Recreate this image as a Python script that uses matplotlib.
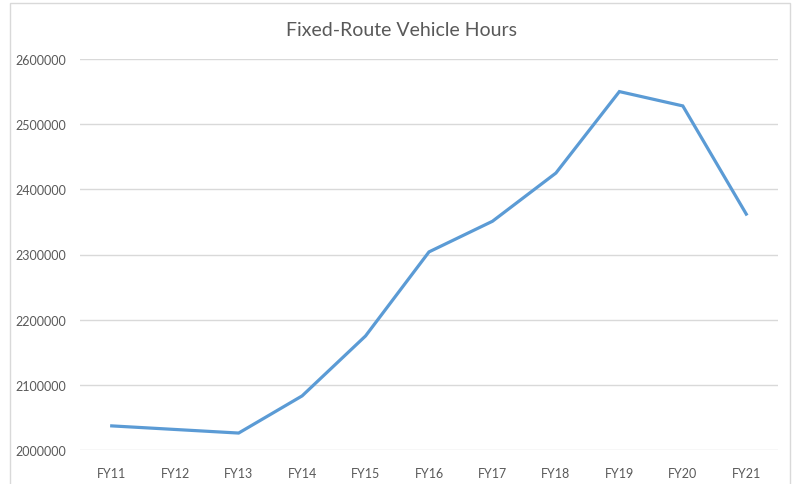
import matplotlib
matplotlib.use('Agg')
import matplotlib.pyplot as plt
from matplotlib.patches import Rectangle

years = ['FY11', 'FY12', 'FY13', 'FY14', 'FY15', 'FY16', 'FY17', 'FY18', 'FY19', 'FY20', 'FY21']
hours = [2037000, 2031500, 2026000, 2083000, 2175000, 2304000, 2351000, 2425000, 2550000, 2528000, 2362000]
yticks = [2000000, 2100000, 2200000, 2300000, 2400000, 2500000, 2600000]

plt.rcParams['font.family'] = ['Lato', 'DejaVu Sans']

W, H = 797, 485
fig = plt.figure(figsize=(W / 100, H / 100), dpi=100)
fig.patch.set_facecolor('white')

# chart frame like Excel
fig.patches.append(Rectangle((10 / W, -0.02), 780 / W, 1 - 4 / H + 0.02,
                             transform=fig.transFigure, fill=False,
                             edgecolor='#d9d9d9', linewidth=1.0))

ax = fig.add_axes([80 / W, 1 - 451 / H, 698 / W, 391 / H])
x = list(range(len(years)))
ax.plot(x, hours, color='#5b9bd5', linewidth=2.3, solid_joinstyle='miter')

ax.set_xlim(-0.5, len(years) - 0.5)
ax.set_ylim(2000000, 2600000)
ax.set_yticks(yticks)
ax.set_yticklabels([str(v) for v in yticks])
ax.set_xticks(x)
ax.set_xticklabels(years)
ax.yaxis.grid(True, color='#d9d9d9', linewidth=1.0)
ax.set_axisbelow(True)
for s in ax.spines.values():
    s.set_visible(False)
ax.tick_params(axis='both', length=0, colors='#595959', labelsize=9)
ax.tick_params(axis='x', pad=12)
ax.tick_params(axis='y', pad=10)

fig.text(402 / W, 1 - 30 / H, 'Fixed-Route Vehicle Hours', ha='center', va='center',
         fontsize=14, color='#595959')

fig.savefig('out.png', dpi=100)
